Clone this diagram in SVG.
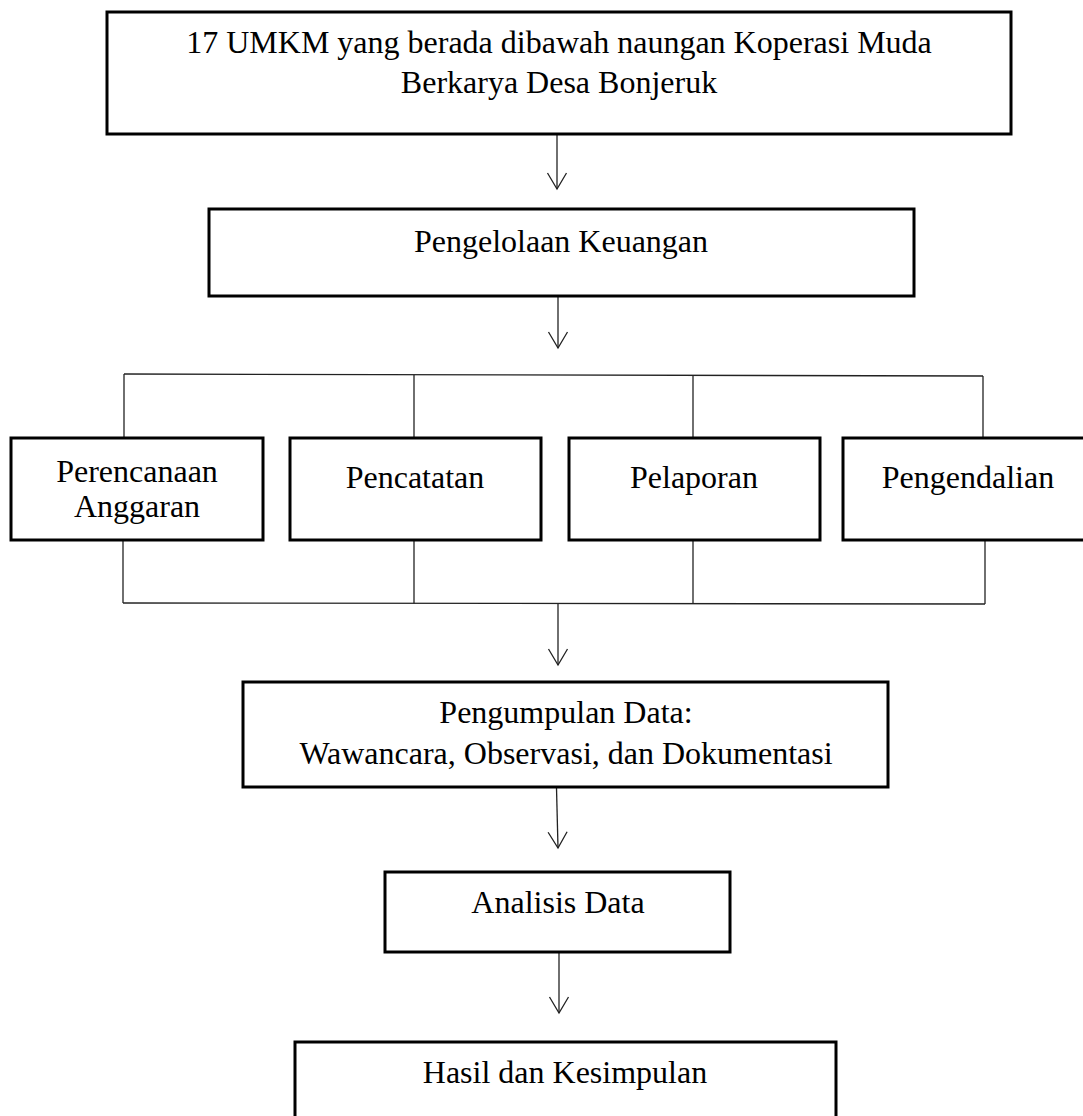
<svg xmlns="http://www.w3.org/2000/svg" width="1083" height="1116" viewBox="0 0 1083 1116">
<style>
.box{fill:#fff;stroke:#000;stroke-width:3}
.t{font-family:"Liberation Serif","Times New Roman",serif;font-size:32px;fill:#000;text-anchor:middle}
.c{fill:none;stroke:#222;stroke-width:1.3}
</style>
<defs>
<marker id="arr" markerUnits="userSpaceOnUse" orient="auto" refX="0" refY="0" markerWidth="20" markerHeight="20" overflow="visible">
<path d="M-16,-9.5 L0,0 L-16,9.5" fill="none" stroke="#222" stroke-width="1.3"/>
</marker>
</defs>
<rect width="1083" height="1116" fill="#fff"/>
<g id="connectors">
<line class="c" x1="557" y1="135" x2="557" y2="189" marker-end="url(#arr)"/>
<line class="c" x1="558" y1="297" x2="558" y2="348" marker-end="url(#arr)"/>
<line class="c" x1="124" y1="374" x2="983" y2="376"/>
<line class="c" x1="124" y1="374" x2="124" y2="438"/>
<line class="c" x1="414" y1="375" x2="414" y2="438"/>
<line class="c" x1="693" y1="375.5" x2="693" y2="438"/>
<line class="c" x1="983" y1="376" x2="983" y2="438"/>
<line class="c" x1="123" y1="540" x2="123" y2="603"/>
<line class="c" x1="414" y1="540" x2="414" y2="603.5"/>
<line class="c" x1="693" y1="540" x2="693" y2="604"/>
<line class="c" x1="985" y1="540" x2="985" y2="604"/>
<line class="c" x1="123" y1="603" x2="985" y2="604"/>
<line class="c" x1="558" y1="604" x2="558" y2="665" marker-end="url(#arr)"/>
<line class="c" x1="556.5" y1="788" x2="558" y2="848" marker-end="url(#arr)"/>
<line class="c" x1="559" y1="953" x2="559" y2="1013" marker-end="url(#arr)"/>
</g>
<g id="n-umkm">
<rect class="box" x="107" y="12" width="904" height="122"/>
<text class="t" x="559" y="53">17 UMKM yang berada dibawah naungan Koperasi Muda</text>
<text class="t" x="559" y="92.5">Berkarya Desa Bonjeruk</text>
</g>
<g id="n-pengelolaan">
<rect class="box" x="209" y="209" width="705" height="87"/>
<text class="t" x="561" y="252">Pengelolaan Keuangan</text>
</g>
<g id="n-perencanaan">
<rect class="box" x="11" y="438" width="252" height="102"/>
<text class="t" x="137" y="482">Perencanaan</text>
<text class="t" x="137" y="517">Anggaran</text>
</g>
<g id="n-pencatatan">
<rect class="box" x="290" y="438" width="251" height="102"/>
<text class="t" x="415" y="488">Pencatatan</text>
</g>
<g id="n-pelaporan">
<rect class="box" x="569" y="438" width="251" height="102"/>
<text class="t" x="694" y="488">Pelaporan</text>
</g>
<g id="n-pengendalian">
<rect class="box" x="843" y="438" width="247" height="102"/>
<text class="t" x="968" y="488">Pengendalian</text>
</g>
<g id="n-pengumpulan">
<rect class="box" x="243" y="682" width="645" height="105"/>
<text class="t" x="566" y="723">Pengumpulan Data:</text>
<text class="t" x="566" y="764">Wawancara, Observasi, dan Dokumentasi</text>
</g>
<g id="n-analisis">
<rect class="box" x="385" y="872" width="345" height="80"/>
<text class="t" x="558" y="913">Analisis Data</text>
</g>
<g id="n-hasil">
<rect class="box" x="295" y="1042" width="541" height="85"/>
<text class="t" x="565" y="1083">Hasil dan Kesimpulan</text>
</g>
</svg>
